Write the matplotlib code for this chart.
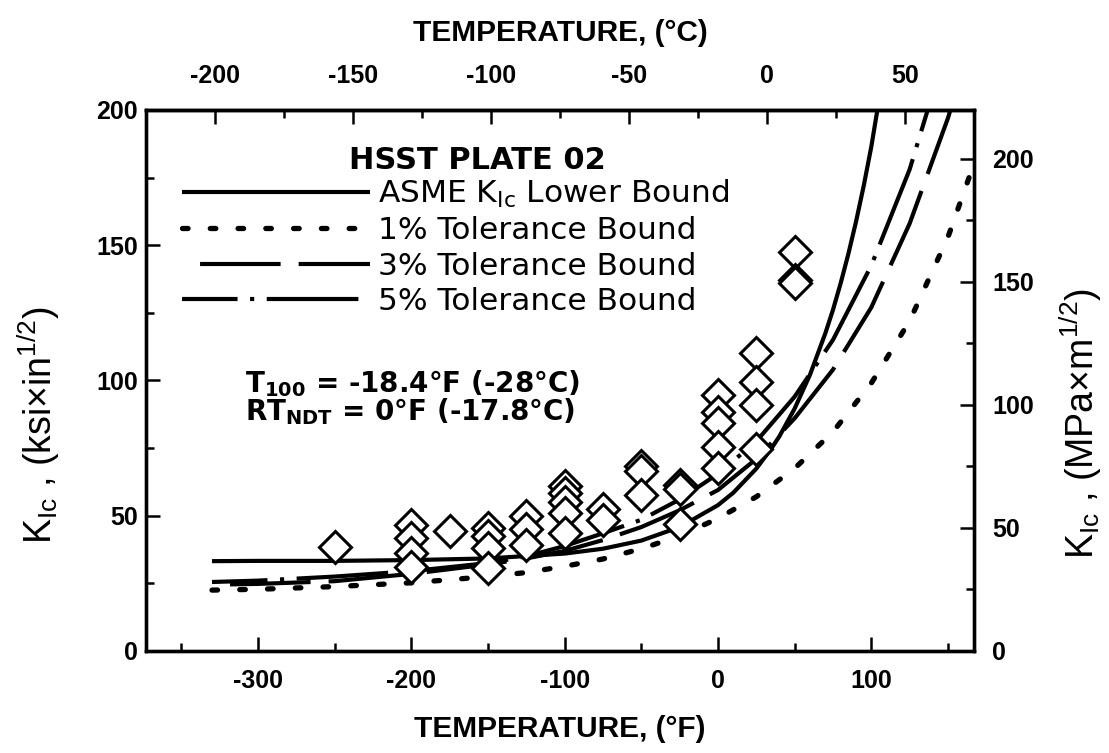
import numpy as np
import matplotlib
matplotlib.use("Agg")
import matplotlib.pyplot as plt
from matplotlib.ticker import MultipleLocator, FixedLocator

# ---------------- data ----------------
# ASME K_Ic lower bound, temperature (F) vs K (ksi*in^1/2)
asme_T = [-330, -300, -250, -200, -150, -100, -75, -50, -25, 0, 10, 25, 35, 40, 50, 60, 70, 75, 80, 85, 90, 95, 100, 106]
asme_K = [33.2, 33.3, 33.3, 33.6, 34.2, 36.0, 37.8, 40.8, 45.8, 53.9, 58.5, 67.4, 75.0, 79.3, 89.6, 102.1, 117.4, 126.1, 135.9, 146.7, 158.6, 171.8, 186.4, 207.0]

# 1% tolerance bound
tol1_T = [-330, -300, -250, -200, -150, -125, -100, -75, -50, -25, 0, 25, 50, 75, 100, 125, 150, 170]
tol1_K = [22.5, 22.8, 23.8, 25.2, 27.5, 29.0, 31.3, 34.0, 37.8, 42.5, 49.0, 57.0, 67.5, 81.0, 99.0, 122.0, 153.0, 185.0]

# 3% tolerance bound
tol3_T = [-330, -300, -250, -200, -150, -125, -100, -75, -50, -25, 0, 25, 50, 75, 100, 125, 150, 160]
tol3_K = [24.5, 24.8, 25.8, 28.5, 32.0, 34.2, 37.0, 41.0, 45.8, 52.0, 59.5, 71.0, 86.0, 104.0, 127.0, 158.0, 197.0, 216.0]

# 5% tolerance bound
tol5_T = [-330, -300, -250, -200, -150, -125, -100, -75, -50, -25, 0, 25, 50, 75, 100, 125, 140]
tol5_K = [25.5, 26.0, 27.5, 29.5, 32.5, 35.0, 38.8, 43.5, 48.5, 56.0, 65.5, 77.5, 94.0, 115.0, 142.5, 178.0, 206.0]

# HSST plate 02 fracture toughness data (diamonds)
data_T = [-250,
          -200, -200, -200, -200,
          -175,
          -150, -150, -150, -150,
          -125, -125, -125,
          -100, -100, -100, -100, -100,
          -75, -75,
          -50, -50, -50,
          -25, -25, -25,
          0, 0, 0, 0, 0,
          25, 25, 25, 25,
          50, 50, 50]
data_K = [38.3,
          46.6, 41.7, 36.1, 31.2,
          44.5,
          45.5, 42.5, 38.0, 30.5,
          50.0, 45.0, 39.2,
          61.0, 58.3, 55.0, 50.9, 43.5,
          52.5, 48.5,
          68.5, 66.5, 57.5,
          61.5, 60.0, 47.0,
          94.5, 88.5, 84.2, 75.3, 67.5,
          110.0, 99.5, 91.0, 74.5,
          147.5, 137.0, 136.0]

legend_labels = [r"ASME K$_{\mathregular{Ic}}$ Lower Bound", "1% Tolerance Bound",
                 "3% Tolerance Bound", "5% Tolerance Bound"]
top_ticks_C = [-200, -150, -100, -50, 0, 50]
bottom_ticks_F = [-300, -200, -100, 0, 100]
left_ticks = [0, 50, 100, 150, 200]
right_ticks = [0, 50, 100, 150, 200]

KSI_TO_MPA = 1.0988

# ---------------- style ----------------
plt.rcParams['lines.scale_dashes'] = False
plt.rcParams['axes.unicode_minus'] = False
plt.rcParams['font.family'] = ['Liberation Sans', 'DejaVu Sans']

fig = plt.figure(figsize=(11.09, 7.53), dpi=100)
ax = fig.add_axes([0.1317, 0.1355, 0.7466, 0.7185])

ax.set_xlim(-373.0, 167.0)
ax.set_ylim(0, 200)

lw = 3.0
l_asme, = ax.plot(asme_T, asme_K, color='black', lw=lw, solid_capstyle='butt')
l_1, = ax.plot(tol1_T, tol1_K, color='black', lw=3.8, linestyle=(0, (4, 16)),
               dash_capstyle='round')
l_3, = ax.plot(tol3_T, tol3_K, color='black', lw=lw, linestyle=(58, (58, 13)))
l_5, = ax.plot(tol5_T, tol5_K, color='black', lw=lw, linestyle=(26, (66, 9, 3, 9)))

ax.plot(data_T, data_K, linestyle='none', marker='D', ms=16, mfc='white',
        mec='black', mew=2.2, zorder=5)

# ticks / spines
tick_font = dict(family='Liberation Sans', weight='bold', size=18)
for s in ax.spines.values():
    s.set_linewidth(2.4)
ax.xaxis.set_major_locator(FixedLocator(bottom_ticks_F))
ax.xaxis.set_minor_locator(MultipleLocator(50))
ax.yaxis.set_major_locator(FixedLocator(left_ticks))
ax.yaxis.set_minor_locator(MultipleLocator(25))
ax.tick_params(which='both', direction='in', width=1.8, top=False, right=False)
ax.tick_params(which='major', length=10)
ax.tick_params(which='minor', length=6)
ax.tick_params(axis='x', which='major', pad=13)
ax.tick_params(axis='y', which='major', pad=6)
for lab in ax.get_xticklabels() + ax.get_yticklabels():
    lab.set(**tick_font)

ax.set_xlabel("TEMPERATURE, (°F)", fontsize=21.5, fontweight='bold', labelpad=16)
ax.set_ylabel(r"K$_{\mathregular{Ic}}$ , (ksi×in$^{\mathregular{1/2}}$)", fontsize=27)
ax.yaxis.set_label_coords(-0.101, 0.418)

# top Celsius axis
top = ax.secondary_xaxis('top', functions=(lambda f: (f - 32.0) / 1.8, lambda c: c * 1.8 + 32.0))
top.xaxis.set_major_locator(FixedLocator(top_ticks_C))
top.xaxis.set_minor_locator(MultipleLocator(25))
top.tick_params(which='both', direction='in', width=1.8)
top.tick_params(which='major', length=10, pad=16)
top.tick_params(which='minor', length=6)
for lab in top.get_xticklabels():
    lab.set(**tick_font)
top.set_xlabel("TEMPERATURE, (°C)", fontsize=21.5, fontweight='bold', labelpad=16)
top.spines['top'].set_linewidth(2.4)

# right MPa axis
rax = ax.twinx()
rax.set_ylim(0, 200 * KSI_TO_MPA)
rax.yaxis.set_major_locator(FixedLocator(right_ticks))
rax.yaxis.set_minor_locator(MultipleLocator(25))
rax.tick_params(which='both', direction='in', width=1.8)
rax.tick_params(which='major', length=10, pad=13)
rax.tick_params(which='minor', length=6)
for lab in rax.get_yticklabels():
    lab.set(**tick_font)
for s in rax.spines.values():
    s.set_linewidth(2.4)
rax.set_ylabel(r"K$_{\mathregular{Ic}}$ , (MPa×m$^{\mathregular{1/2}}$)", fontsize=27)
rax.yaxis.set_label_coords(1.101, 0.42)

# legend and annotations
ax.text(0.40, 0.907, "HSST PLATE 02", transform=ax.transAxes, ha='center', va='center',
        fontsize=22, fontweight='bold', family='DejaVu Sans')
leg = ax.legend([l_asme, l_1, l_3, l_5], legend_labels, loc='upper left',
                bbox_to_anchor=(0.044, 0.875), frameon=False, borderpad=0, borderaxespad=0,
                handlelength=6.0, handletextpad=0.25, labelspacing=0.21,
                prop={'family': 'DejaVu Sans', 'size': 22.5})

ax.text(0.12, 0.495, r"T$_{\mathregular{100}}$ = -18.4°F (-28°C)", transform=ax.transAxes,
        ha='left', va='center', fontsize=20, fontweight='bold', family='DejaVu Sans')
ax.text(0.12, 0.443, r"RT$_{\mathregular{NDT}}$ = 0°F (-17.8°C)", transform=ax.transAxes,
        ha='left', va='center', fontsize=20, fontweight='bold', family='DejaVu Sans')

fig.savefig("out.png", dpi=100)
